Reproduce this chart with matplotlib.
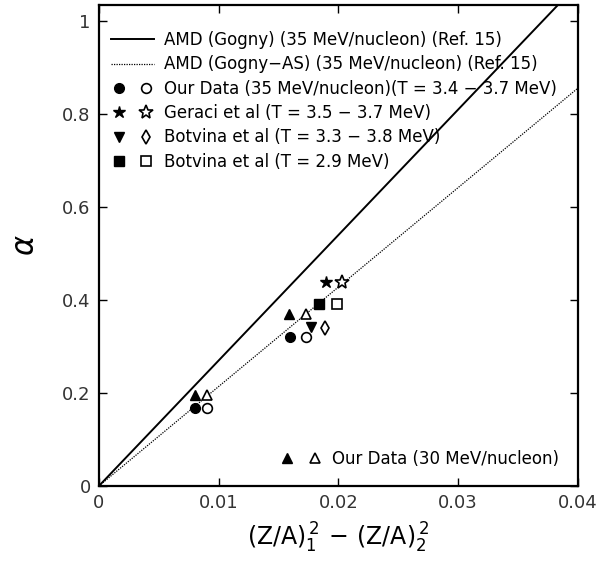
import matplotlib
matplotlib.use("Agg")
import matplotlib.pyplot as plt
import numpy as np
from matplotlib.legend_handler import HandlerTuple

# Model lines: alpha = slope * x
slope_gogny = 27.0
slope_gogny_as = 21.4
line_x = [0.0, 0.04]

# Data (x = (Z/A)_1^2 - (Z/A)_2^2, y = alpha)
our35_x_filled = [0.0080, 0.01595]
our35_x_open = [0.0090, 0.01726]
our35_y = [0.168, 0.320]

our30_x_filled = [0.0080, 0.01589]
our30_x_open = [0.0090, 0.01726]
our30_y = [0.196, 0.369]

geraci_x_filled = [0.01893]
geraci_x_open = [0.0203]
geraci_y = [0.439]

botvina1_x_filled = [0.0177]
botvina1_y_filled = [0.343]
botvina1_x_open = [0.01887]
botvina1_y_open = [0.339]

botvina2_x_filled = [0.0184]
botvina2_x_open = [0.0199]
botvina2_y = [0.391]

labels = [
    "AMD (Gogny) (35 MeV/nucleon) (Ref. 15)",
    "AMD (Gogny\u2212AS) (35 MeV/nucleon) (Ref. 15)",
    "Our Data (35 MeV/nucleon)(T = 3.4 \u2212 3.7 MeV)",
    "Geraci et al (T = 3.5 \u2212 3.7 MeV)",
    "Botvina et al (T = 3.3 \u2212 3.8 MeV)",
    "Botvina et al (T = 2.9 MeV)",
]
label30 = "Our Data (30 MeV/nucleon)"

fig = plt.figure(figsize=(6, 5.63), dpi=100)
ax = fig.add_axes([0.165, 0.137, 0.798, 0.854])

lx = np.array(line_x)
l1, = ax.plot(lx, slope_gogny * lx, color="black", lw=1.4)
l2, = ax.plot(lx, slope_gogny_as * lx, color="black", lw=0.9, ls=(0, (1, 1)))

ms = 7
kw_f = dict(ls="none", color="black", ms=ms)
kw_o = dict(ls="none", mfc="white", mec="black", mew=1.2, ms=ms)

c1, = ax.plot(our35_x_filled, our35_y, marker="o", **kw_f)
c2, = ax.plot(our35_x_open, our35_y, marker="o", **kw_o)
t1, = ax.plot(our30_x_filled, our30_y, marker="^", **kw_f)
t2, = ax.plot(our30_x_open, our30_y, marker="^", **kw_o)
s1, = ax.plot(geraci_x_filled, geraci_y, marker="*", **dict(kw_f, ms=9))
s2, = ax.plot(geraci_x_open, geraci_y, marker="*", **dict(kw_o, ms=10))
v1, = ax.plot(botvina1_x_filled, botvina1_y_filled, marker="v", **kw_f)
d2, = ax.plot(botvina1_x_open, botvina1_y_open, marker="d", **kw_o)
q1, = ax.plot(botvina2_x_filled, botvina2_y, marker="s", **kw_f)
q2, = ax.plot(botvina2_x_open, botvina2_y, marker="s", **kw_o)

ax.set_xlim(0, 0.04)
ax.set_ylim(0, 1.035)
ax.set_xticks([0, 0.01, 0.02, 0.03, 0.04])
ax.set_xticklabels(["0", "0.01", "0.02", "0.03", "0.04"])
ax.set_yticks([0, 0.2, 0.4, 0.6, 0.8, 1.0])
ax.set_yticklabels(["0", "0.2", "0.4", "0.6", "0.8", "1"])
ax.tick_params(direction="in", top=True, right=True, length=6, width=1,
               labelsize=13, pad=6, labelcolor="#333333")
for sp in ax.spines.values():
    sp.set_linewidth(1.6)

ax.set_xlabel(r"$(\mathrm{Z/A})_1^{\,2}\,-\,(\mathrm{Z/A})_2^{\,2}$", fontsize=17, labelpad=6)
ax.set_ylabel(r"$\alpha$", fontsize=22, labelpad=16, rotation=90)

hm = HandlerTuple(ndivide=None, pad=0.7)
leg1 = ax.legend(
    [l1, l2, (c1, c2), (s1, s2), (v1, d2), (q1, q2)], labels,
    loc="upper left", frameon=False, fontsize=12,
    handler_map={tuple: hm}, handlelength=2.6, handletextpad=0.6,
    labelspacing=0.38, borderaxespad=0.3, bbox_to_anchor=(0.0, 0.97))
ax.add_artist(leg1)
ax.legend([(t1, t2)], [label30], loc="lower right", frameon=False,
          fontsize=12, handler_map={tuple: hm}, handlelength=2.6,
          handletextpad=0.6, borderaxespad=0.7)

fig.savefig("out.png", dpi=100)
